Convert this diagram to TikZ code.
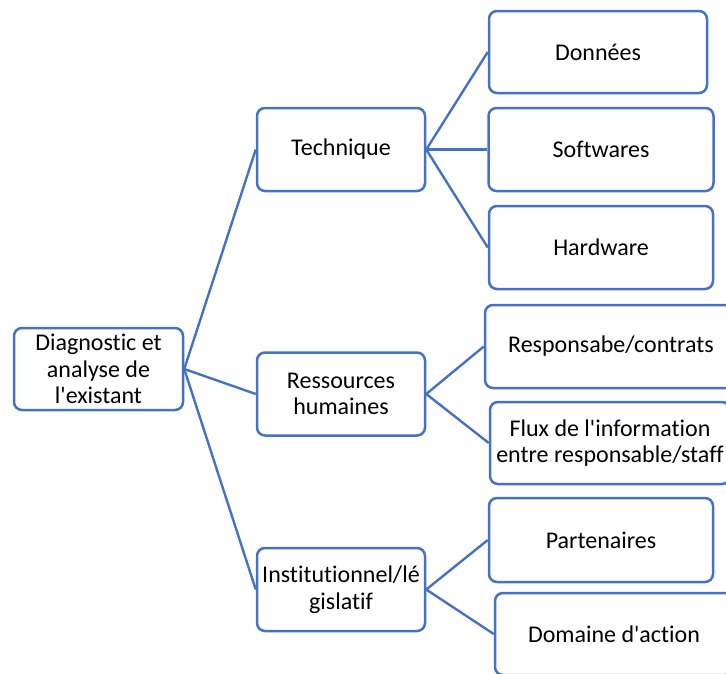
\documentclass[tikz,border=0pt]{standalone}
\usepackage{fontspec}
\setmainfont{Carlito}[Ligatures={NoCommon}]
\definecolor{obox}{HTML}{4472C4}
\tikzset{
  box/.style={draw=obox, line width=2.5pt, rounded corners=8pt, fill=white, align=center,
    inner sep=0pt, font=\fontsize{24}{26.5}\selectfont},
  link/.style={draw=obox, line width=2.4pt},
}
\begin{document}
\begin{tikzpicture}[x=1pt,y=-1pt]
\useasboundingbox (0,0) rectangle (726,673);
\clip (0,0) rectangle (726,673);
\node[box, minimum width=169pt, minimum height=82pt] (root) at (98.5,369) {Diagnostic et\\analyse de\\l\textquotesingle existant};
\node[box, minimum width=168pt, minimum height=83pt] (tech) at (341,149.5) {Technique};
\node[box, minimum width=168pt, minimum height=83pt] (rh) at (341,394) {Ressources\\humaines};
\node[box, minimum width=168pt, minimum height=83pt] (inst) at (341,589.5) {Institutionnel/lé\\gislatif};
\node[box, minimum width=218pt, minimum height=82pt] (don) at (598,52) {Données};
\node[box, minimum width=225pt, minimum height=83pt] (soft) at (601,149.5) {Softwares};
\node[box, minimum width=224pt, minimum height=83pt] (hard) at (601,247.5) {Hardware};
\node[box, minimum width=252pt, minimum height=83pt] (resp) at (611,346.5) {Responsabe/contrats};
\node[box, minimum width=240pt, minimum height=82pt] (flux) at (610,443) {Flux de l\textquotesingle information\\entre responsable/staff};
\node[box, minimum width=224pt, minimum height=84pt] (part) at (601,540) {Partenaires};
\node[box, minimum width=238pt, minimum height=82pt] (dom) at (614,634) {Domaine d\textquotesingle action};
\draw[link] (root.east) -- (tech.west);
\draw[link] (root.east) -- (rh.west);
\draw[link] (root.east) -- (inst.west);
\draw[link] (tech.east) -- (don.west);
\draw[link] (tech.east) -- (soft.west);
\draw[link] (tech.east) -- (hard.west);
\draw[link] (rh.east) -- (resp.west);
\draw[link] (rh.east) -- (flux.west);
\draw[link] (inst.east) -- (part.west);
\draw[link] (inst.east) -- (dom.west);
\end{tikzpicture}
\end{document}
